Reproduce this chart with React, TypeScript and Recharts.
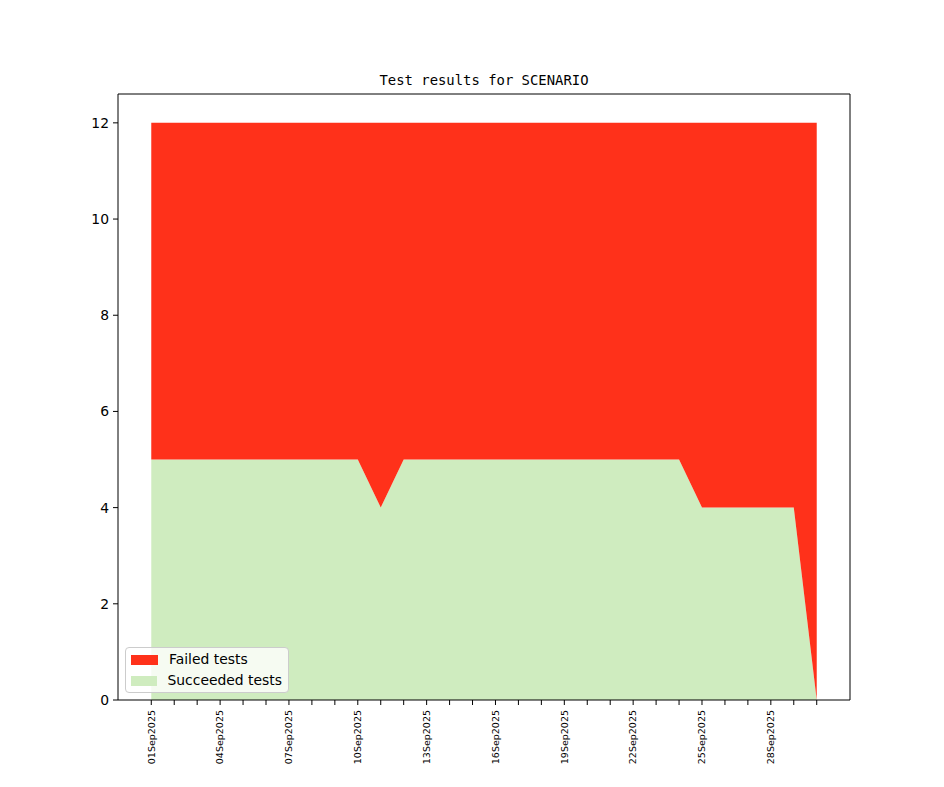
import { AreaChart, Area, XAxis, YAxis, Legend, ReferenceLine } from 'recharts';

const DATES = [
  '01Sep2025', '02Sep2025', '03Sep2025', '04Sep2025', '05Sep2025', '06Sep2025',
  '07Sep2025', '08Sep2025', '09Sep2025', '10Sep2025', '11Sep2025', '12Sep2025',
  '13Sep2025', '14Sep2025', '15Sep2025', '16Sep2025', '17Sep2025', '18Sep2025',
  '19Sep2025', '20Sep2025', '21Sep2025', '22Sep2025', '23Sep2025', '24Sep2025',
  '25Sep2025', '26Sep2025', '27Sep2025', '28Sep2025', '29Sep2025', '30Sep2025',
];
const SUCCEEDED = [5, 5, 5, 5, 5, 5, 5, 5, 5, 5, 4, 5, 5, 5, 5, 5, 5, 5, 5, 5, 5, 5, 5, 5, 4, 4, 4, 4, 4, 0];
const FAILED = [7, 7, 7, 7, 7, 7, 7, 7, 7, 7, 8, 7, 7, 7, 7, 7, 7, 7, 7, 7, 7, 7, 7, 7, 8, 8, 8, 8, 8, 12];
const Y_TICKS = [0, 2, 4, 6, 8, 10, 12];

const RED = '#ff311a';
const GREEN = '#cfecbf';
const FONT = '"DejaVu Sans", sans-serif';
const X_DOMAIN: [number, number] = [-1.45, 30.45];
const Y_DOMAIN: [number, number] = [0, 12.6];

const data = DATES.map((d, i) => ({ i, date: d, succeeded: SUCCEEDED[i], failed: FAILED[i] }));

function DateTick({ x, y, payload }: any) {
  const label = payload.value % 3 === 0 ? DATES[payload.value] : '';
  return (
    <g transform={`translate(${x},${y})`}>
      <text
        transform="rotate(-90)"
        x={-2}
        y={0}
        dy="0.35em"
        textAnchor="end"
        fontSize={9.5}
        fontFamily={FONT}
        fill="#000"
      >
        {label}
      </text>
    </g>
  );
}

function LegendBox() {
  const items = [
    { name: 'Failed tests', color: RED },
    { name: 'Succeeded tests', color: GREEN },
  ];
  return (
    <div
      style={{
        background: 'rgba(255,255,255,0.8)',
        border: '1px solid #cccccc',
        borderRadius: 4,
        padding: '1px 6px 1px 5px',
        fontFamily: FONT,
        fontSize: 13.9,
        color: '#000',
        whiteSpace: 'nowrap',
        boxSizing: 'border-box',
        width: 164,
        height: 46,
        lineHeight: '21px',
      }}
    >
      {items.map((it) => (
        <div key={it.name} style={{ display: 'flex', alignItems: 'center', height: 21 }}>
          <span style={{ display: 'inline-block', width: 27, height: 10, background: it.color, marginRight: 11 }} />
          <span>{it.name}</span>
        </div>
      ))}
    </div>
  );
}

export default function App() {
  return (
    <div style={{ position: 'absolute', left: 0, top: 0, width: 944, height: 787, background: '#fff' }}>
      <div
        style={{
          position: 'absolute',
          left: 118,
          width: 732,
          top: 72,
          textAlign: 'center',
          fontFamily: '"DejaVu Sans Mono", monospace',
          fontSize: 13.9,
          color: '#000',
        }}
      >
        Test results for SCENARIO
      </div>
      <AreaChart
        width={944}
        height={787}
        data={data}
        margin={{ top: 94, right: 94, left: 78, bottom: 17 }}
      >
        <XAxis
          dataKey="i"
          type="number"
          domain={X_DOMAIN}
          ticks={DATES.map((_, i) => i)}
          interval={0}
          height={70}
          tick={<DateTick />}
          tickSize={5}
          tickMargin={3}
          stroke="#000"
          allowDataOverflow
        />
        <YAxis
          domain={Y_DOMAIN}
          ticks={Y_TICKS}
          width={40}
          tick={{ fontSize: 13.9, fontFamily: FONT, fill: '#000' }}
          tickSize={5}
          tickMargin={4}
          stroke="#000"
          allowDataOverflow
        />
        <Legend
          layout="horizontal"
          verticalAlign="middle"
          align="center"
          content={() => <LegendBox />}
          wrapperStyle={{ position: 'absolute', left: 125, top: 647, width: 164, height: 46 }}
        />
        <Area
          type="linear"
          dataKey="succeeded"
          name="Succeeded tests"
          stackId="1"
          fill={GREEN}
          fillOpacity={1}
          stroke="none"
          isAnimationActive={false}
        />
        <Area
          type="linear"
          dataKey="failed"
          name="Failed tests"
          stackId="1"
          fill={RED}
          fillOpacity={1}
          stroke="none"
          isAnimationActive={false}
        />
        <ReferenceLine y={Y_DOMAIN[1]} stroke="#000" strokeWidth={1} />
        <ReferenceLine x={X_DOMAIN[1]} stroke="#000" strokeWidth={1} />
      </AreaChart>
    </div>
  );
}
